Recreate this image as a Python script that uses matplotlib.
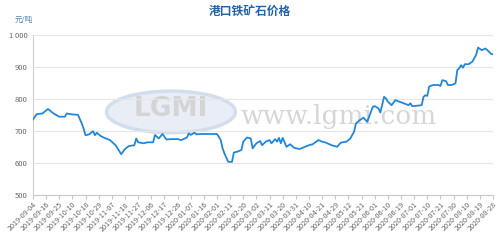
import numpy as np
import matplotlib; matplotlib.use("Agg")
import matplotlib.pyplot as plt
from matplotlib.patches import Ellipse

plt.rcParams['font.family'] = ['Noto Sans CJK SC', 'DejaVu Sans']

# trading-day index -> price (元/吨)
day = [0, 2, 5, 8, 11, 14, 17, 18, 21, 24, 25, 26, 27, 28, 30, 32, 33, 34, 36, 38,
       41, 44, 47, 49, 51, 54, 55, 56, 59, 61, 64, 65, 67, 69, 71, 74, 77, 79, 82, 83,
       84, 86, 87, 90, 93, 98, 100, 101, 102, 104, 106, 107, 109, 111, 112, 114, 116, 117, 119, 121,
       122, 124, 126, 127, 129, 130, 131, 132, 133, 135, 137, 139, 142, 145, 147, 149, 152, 154, 156, 159,
       162, 164, 167, 169, 171, 172, 174, 176, 178, 181, 182, 184, 185, 187, 188, 189, 191, 193, 195, 197,
       200, 201, 202, 204, 207, 208, 209, 210, 211, 213, 216, 217, 218, 220, 221, 223, 225, 226, 227, 228,
       229, 230, 232, 234, 236, 237, 239, 241, 242, 244, 245]
price = [736, 753, 755, 769, 755, 745, 745, 755, 752, 751, 737, 724, 708, 687, 690, 700, 687, 695, 685, 679,
         672, 656, 628, 644, 653, 656, 677, 665, 662, 665, 665, 688, 677, 691, 674, 675, 675, 672, 680, 693,
         688, 695, 690, 691, 691, 691, 672, 646, 630, 604, 604, 633, 636, 641, 667, 680, 677, 646, 662, 669,
         656, 667, 672, 662, 675, 667, 679, 662, 679, 651, 659, 648, 644, 651, 656, 659, 672, 667, 664, 656,
         651, 664, 667, 677, 698, 724, 734, 742, 729, 776, 778, 771, 758, 807, 802, 792, 781, 797, 792, 788,
         781, 787, 778, 779, 781, 807, 812, 810, 839, 844, 844, 841, 859, 856, 844, 844, 849, 891, 896, 906,
         898, 909, 909, 917, 938, 961, 953, 958, 953, 941, 940]

tick_labels = ["2019-09-04", "2019-09-16", "2019-09-25", "2019-10-10", "2019-10-18", "2019-10-29",
               "2019-11-07", "2019-11-18", "2019-11-27", "2019-12-06", "2019-12-17", "2019-12-26",
               "2020-01-07", "2020-01-16", "2020-02-01", "2020-02-11", "2020-02-20", "2020-03-02",
               "2020-03-11", "2020-03-20", "2020-03-31", "2020-04-10", "2020-04-21", "2020-04-29",
               "2020-05-12", "2020-05-21", "2020-06-01", "2020-06-10", "2020-06-19", "2020-07-01",
               "2020-07-10", "2020-07-21", "2020-07-30", "2020-08-10", "2020-08-19", "2020-08-28"]
tick_step = 7
y_ticks = [500, 600, 700, 800, 900, 1000]

fig = plt.figure(figsize=(4.99, 2.47), dpi=100)
ax = fig.add_axes([0.066, 0.21, 0.922, 0.648])

# faint watermark (logo + site name)
wm = Ellipse((0.30, 0.52), 0.28, 0.26, transform=ax.transAxes, facecolor="#e9eef6",
             edgecolor="#d3deec", lw=2.5, zorder=0)
ax.add_patch(wm)
ax.text(0.30, 0.54, "LGMI", transform=ax.transAxes, ha="center", va="center",
        fontsize=19, color="#d4d4d4", fontweight="bold", family="DejaVu Sans", zorder=0)
ax.text(0.665, 0.49, "www.lgmi.com", transform=ax.transAxes, ha="center", va="center",
        fontsize=19, color="#d6d6d6", family="DejaVu Serif", zorder=0)

ax.plot(day, price, color="#2287dc", lw=1.3, zorder=3)

ax.set_xlim(0, tick_step * (len(tick_labels) - 1))
ax.set_ylim(500, 1000)
ax.set_yticks(y_ticks)
ax.set_yticklabels(["1 000" if v == 1000 else str(v) for v in y_ticks])
ax.set_xticks(np.arange(len(tick_labels)) * tick_step)
ax.set_xticklabels(tick_labels, rotation=45, ha="right", rotation_mode="anchor")

ax.grid(axis="y", color="#e6e6e6", lw=0.8)
ax.set_axisbelow(True)
for s in ["top", "right"]:
    ax.spines[s].set_visible(False)
ax.spines["left"].set_color("#d0d0d0")
ax.spines["bottom"].set_color("#c8c8c8")
ax.tick_params(axis="y", length=0, labelsize=5.5, labelcolor="#666666", pad=4)
ax.tick_params(axis="x", length=3, color="#c8c8c8", labelsize=5.2, labelcolor="#666666", pad=1)

fig.text(0.5, 0.955, "港口铁矿石价格", ha="center", va="center", fontsize=8.5,
         fontweight="bold", color="#2463a8")
fig.text(0.03, 0.92, "元/吨", ha="left", va="center", fontsize=5.5, color="#4f7fb0")

fig.savefig("out.png", dpi=100)
